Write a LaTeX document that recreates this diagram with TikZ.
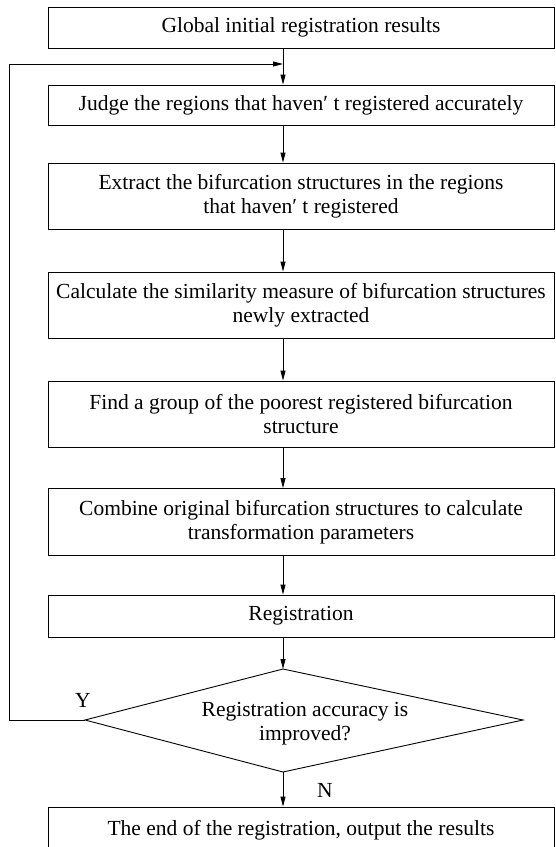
\documentclass[tikz,border=0pt]{standalone}
\usepackage{fontspec}
\setmainfont{Liberation Serif}
\usetikzlibrary{shapes.geometric, arrows.meta, positioning, calc}

\begin{document}
\begin{tikzpicture}[x=1pt, y=-1pt,
    stepbox/.style={draw, line width=0.9pt, minimum width=506pt, inner sep=0pt,
          align=center, font=\fontsize{21.5}{24}\selectfont},
    arr/.style={-{Triangle[length=10pt, width=5pt]}, line width=0.9pt},
    lbl/.style={font=\fontsize{21.5}{24}\selectfont}]
    \useasboundingbox (0,0) rectangle (555,847);
    \clip (0,0) rectangle (555,847);
    \coordinate (axis) at (283,0);

    % steps
    \node[stepbox, minimum height=41pt] (start) at (301,27.5) {Global initial registration results};
    \node[stepbox, minimum height=40pt] (regions) at (301,105) {Judge the regions that haven′ t registered accurately};
    \node[stepbox, minimum height=66pt] (extract) at (301,196) {Extract the bifurcation structures in the regions\\that haven′ t registered};
    \node[stepbox, minimum height=66pt] (similar) at (301,305) {Calculate the similarity measure of bifurcation structures\\newly extracted};
    \node[stepbox, minimum height=66pt] (poorest) at (301,414) {Find a group of the poorest registered bifurcation\\structure};
    \node[stepbox, minimum height=67pt] (combine) at (301,522) {Combine original bifurcation structures to calculate\\transformation parameters};
    \node[stepbox, minimum height=42pt] (regist) at (301,616) {Registration};
    \node[stepbox, minimum height=46pt] (finish) at (301,830) {The end of the registration, output the results};

    % decision
    \coordinate (dtop) at (283,669);
    \coordinate (dright) at (523,720);
    \coordinate (dbot) at (283,772);
    \coordinate (dleft) at (85,720);
    \draw[line width=0.9pt] (dtop) -- (dright) -- (dbot) -- (dleft) -- cycle;
    \node[lbl, align=center] (improve) at (305,724) {Registration accuracy is\\improved?};

    \node[lbl] (yes) at (83,700) {Y};
    \node[lbl] (no) at (325,790) {N};

    % connectors
    \coordinate (loop) at (283,64);
    \coordinate (back) at (9,720);
    \draw[arr] (start.south -| axis) -- (regions.north -| axis);
    \draw[arr] (regions.south -| axis) -- (extract.north -| axis);
    \draw[arr] (extract.south -| axis) -- (similar.north -| axis);
    \draw[arr] (similar.south -| axis) -- (poorest.north -| axis);
    \draw[arr] (poorest.south -| axis) -- (combine.north -| axis);
    \draw[arr] (combine.south -| axis) -- (regist.north -| axis);
    \draw[arr] (regist.south -| axis) -- (dtop);
    \draw[arr] (dbot) -- (finish.north -| axis);
    \draw[arr] (dleft) -- (back) |- (loop);
\end{tikzpicture}
\end{document}
